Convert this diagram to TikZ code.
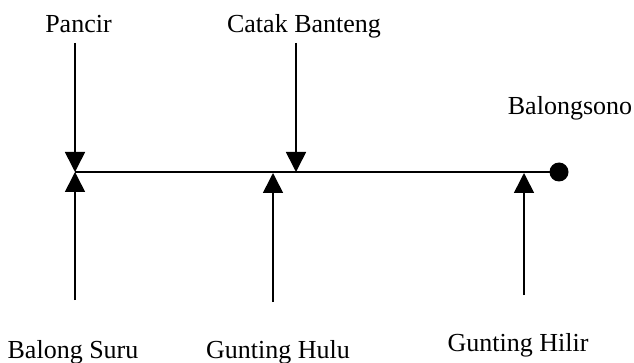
\documentclass[tikz,border=0pt]{standalone}
\usepackage{fontspec}
\setmainfont{Liberation Serif}
\usetikzlibrary{arrows.meta}
\begin{document}
\begin{tikzpicture}[x=1pt,y=-1pt,
  label/.style={font=\fontsize{26}{30}\selectfont, anchor=base, inner sep=0pt},
  flow/.style={line width=1.6pt, -{Triangle[width=20pt,length=20pt]}},
  river/.style={line width=1.6pt}]
\useasboundingbox (0,0) rectangle (634,363);

% place names
\node[label] (pancir)  at (78.5,33)  {Pancir};
\node[label] (catak)   at (304,33)   {Catak Banteng};
\node[label] (sono)    at (570,115)  {Balongsono};
\node[label] (suru)    at (73,358)   {Balong Suru};
\node[label] (hulu)    at (278,358)  {Gunting Hulu};
\node[label] (hilir)   at (518,351)  {Gunting Hilir};

% inflow starts and junctions on the main channel
\coordinate (pancirS) at (75,43);
\coordinate (catakS)  at (296,43);
\coordinate (suruS)   at (75,300);
\coordinate (huluS)   at (273,302);
\coordinate (hilirS)  at (524,295);
\coordinate (pancirJ) at (75,172);
\coordinate (catakJ)  at (296,172);
\coordinate (suruJ)   at (75,172);
\coordinate (huluJ)   at (273,173);
\coordinate (hilirJ)  at (524,173);
\coordinate (west)    at (75,172);
\node[circle, fill=black, inner sep=0pt, minimum size=19pt] (outlet) at (559,172) {};

% main channel
\draw[river] (west) -- (outlet.center);

% inflows
\draw[flow] (pancirS) -- (pancirJ);
\draw[flow] (catakS)  -- (catakJ);
\draw[flow] (suruS)   -- (suruJ);
\draw[flow] (huluS)   -- (huluJ);
\draw[flow] (hilirS)  -- (hilirJ);
\end{tikzpicture}
\end{document}
